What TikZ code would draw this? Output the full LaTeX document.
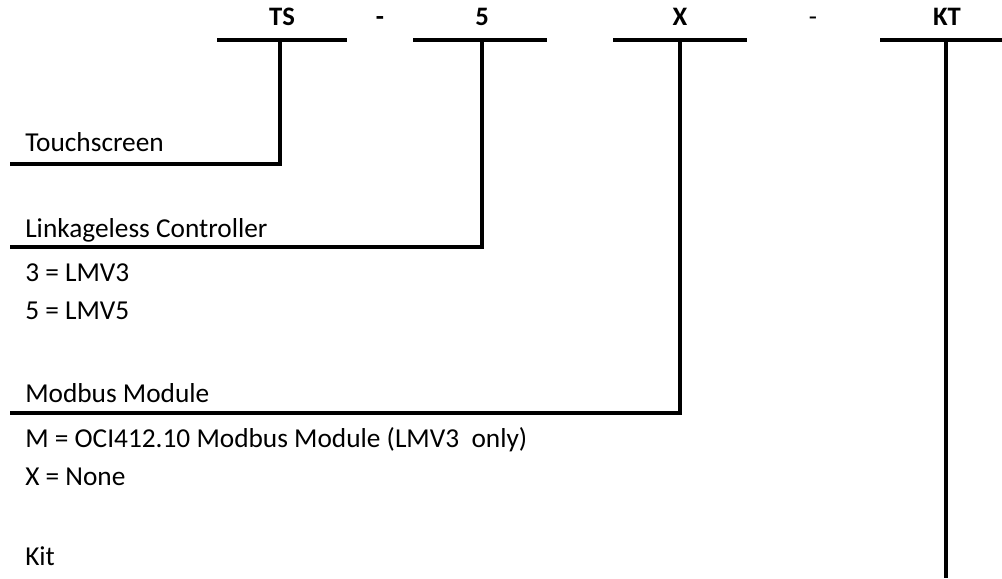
\documentclass[tikz,border=0pt]{standalone}
\usepackage{fontspec}
\setmainfont{Carlito}
\begin{document}
\begin{tikzpicture}[x=0.75pt,y=-0.75pt,
  lbl/.style={anchor=base west,inner sep=0pt,font=\fontsize{20.5}{24}\selectfont},
  hdr/.style={anchor=base,inner sep=0pt,font=\fontsize{20}{24}\selectfont\bfseries},
  sep/.style={anchor=base,inner sep=0pt,font=\fontsize{20}{24}\selectfont},
  bar/.style={line width=2.3pt},
  lead/.style={line width=2.3pt}]
\useasboundingbox (0,0) rectangle (1002,578);
% headers
\node[hdr] (ts) at (282,26) {TS};
\node[hdr] (d1) at (380,26) {-};
\node[hdr] (five) at (482,26) {5};
\node[hdr] (xx) at (680,26) {X};
\node[sep] (d2) at (813,26) {-};
\node[hdr] (kt) at (947,26) {KT};
% bars
\coordinate (tsL) at (217,40); \coordinate (tsR) at (347,40); \coordinate (tsS) at (280,40);
\coordinate (fvL) at (413,40); \coordinate (fvR) at (547,40); \coordinate (fvS) at (482,40);
\coordinate (xL) at (613,40); \coordinate (xR) at (747,40); \coordinate (xS) at (680,40);
\coordinate (kL) at (880,40); \coordinate (kR) at (1002,40); \coordinate (kS) at (946,40);
\draw[bar] (tsL) -- (tsR);
\draw[bar] (fvL) -- (fvR);
\draw[bar] (xL) -- (xR);
\draw[bar] (kL) -- (kR);
% labels
\node[lbl] (touch) at (25,151) {Touchscreen};
\node[lbl] (link) at (25,237) {Linkageless Controller};
\node[lbl] (l3) at (25,281) {3 = LMV3};
\node[lbl] (l5) at (25,319) {5 = LMV5};
\node[lbl] (mod) at (25,402) {Modbus Module};
\node[lbl] (mm) at (25,447) {M = OCI412.10 Modbus Module (LMV3\ \ only)};
\node[lbl] (mx) at (25,485) {X = None};
\node[lbl] (kit) at (25,565) {Kit};
% leader ends
\coordinate (e1) at (10,164);
\coordinate (e2) at (10,247);
\coordinate (e3) at (10,413);
\coordinate (e4) at (946,578);
\draw[lead] (tsS) |- (e1);
\draw[lead] (fvS) |- (e2);
\draw[lead] (xS) |- (e3);
\draw[lead] (kS) -- (e4);
\end{tikzpicture}
\end{document}
